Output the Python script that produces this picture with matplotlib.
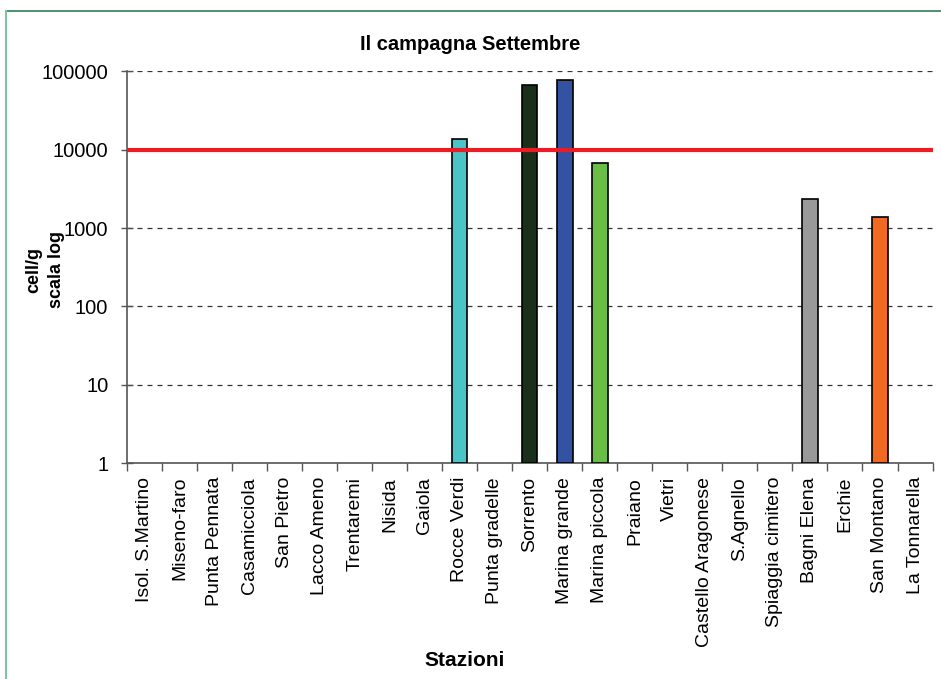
import numpy as np
import matplotlib
matplotlib.use("Agg")
import matplotlib.pyplot as plt
from matplotlib.lines import Line2D

plt.rcParams["font.family"] = ["Liberation Sans", "DejaVu Sans"]

# ---- data -----------------------------------------------------------------
STAZIONI = [
    "Isol. S.Martino", "Miseno-faro", "Punta Pennata", "Casamicciola",
    "San Pietro", "Lacco Ameno", "Trentaremi", "Nisida", "Gaiola",
    "Rocce Verdi", "Punta gradelle", "Sorrento", "Marina grande",
    "Marina piccola", "Praiano", "Vietri", "Castello Aragonese",
    "S.Agnello", "Spiaggia cimitero", "Bagni Elena", "Erchie",
    "San Montano", "La Tonnarella",
]
# cell/g (0 = not detected)
VALORI = [0, 0, 0, 0, 0, 0, 0, 0, 0,
          13500, 0, 67500, 78000, 6850, 0, 0, 0, 0, 0,
          2350, 0, 1380, 0]
COLORI = ["white"] * 9 + ["#4bc4c8", "white", "#1b301b", "#3452a4", "#6abd45",
          "white", "white", "white", "white", "white", "#999999", "white",
          "#f26a22", "white"]
SOGLIA = 10000

# ---- figure ---------------------------------------------------------------
fig = plt.figure(figsize=(9.41, 6.79), dpi=100)
ax = fig.add_axes([0.135, 0.318, 0.856, 0.577])

x = np.arange(len(STAZIONI))
mask = np.array(VALORI) > 0
ax.bar(x[mask], np.array(VALORI)[mask], width=0.44, bottom=1,
       color=np.array(COLORI)[mask], edgecolor="black", linewidth=1.2, zorder=3)

ax.set_yscale("log")
ax.set_ylim(1, 100000)
ax.set_xlim(-0.5, len(STAZIONI) - 0.5)
ax.set_yticks([1, 10, 100, 1000, 10000, 100000])
ax.set_yticklabels(["1", "10", "100", "1000", "10000", "100000"], fontsize=14.5)
ax.yaxis.set_minor_locator(matplotlib.ticker.NullLocator())
ax.tick_params(axis="y", direction="inout", length=9, width=1, color="#555555", pad=9)

ax.set_xticks(x)
ax.set_xticklabels(STAZIONI, rotation=90, fontsize=14)
ax.tick_params(axis="x", length=0, pad=10)
ax.set_xticks(np.arange(len(STAZIONI) + 1) - 0.5, minor=True)
ax.tick_params(axis="x", which="minor", direction="out", length=6, width=1, color="#555555")

ax.grid(axis="y", linestyle=(0, (4, 4)), color="#333333", linewidth=0.9, zorder=0)
for side in ("top", "right"):
    ax.spines[side].set_visible(False)
for side in ("left", "bottom"):
    ax.spines[side].set_color("#555555")
    ax.spines[side].set_linewidth(1.2)

ax.axhline(SOGLIA, color="#ed1c24", linewidth=3, zorder=4)

fig.text(470 / 941, 1 - 44 / 679, "Il campagna Settembre", fontsize=14.5,
         fontweight="bold", ha="center", va="center")
fig.text(45 / 941, 1 - 270 / 679, "cell/g\nscala log", fontsize=13,
         fontweight="bold", rotation=90, ha="center", va="center",
         linespacing=1.45, multialignment="center")
fig.text(465 / 941, 1 - 661 / 679, "Stazioni", fontsize=15, fontweight="bold",
         ha="center", va="center")

# chart frame (top and left edges only visible)
fig.add_artist(Line2D([6 / 941, 1], [1 - 11 / 679, 1 - 11 / 679],
                      transform=fig.transFigure, color="#2e7d5b", linewidth=1.2))
fig.add_artist(Line2D([6 / 941, 6 / 941], [0, 1 - 11 / 679],
                      transform=fig.transFigure, color="#7fc6a0", linewidth=1.5))

fig.savefig("out.png", dpi=100)
